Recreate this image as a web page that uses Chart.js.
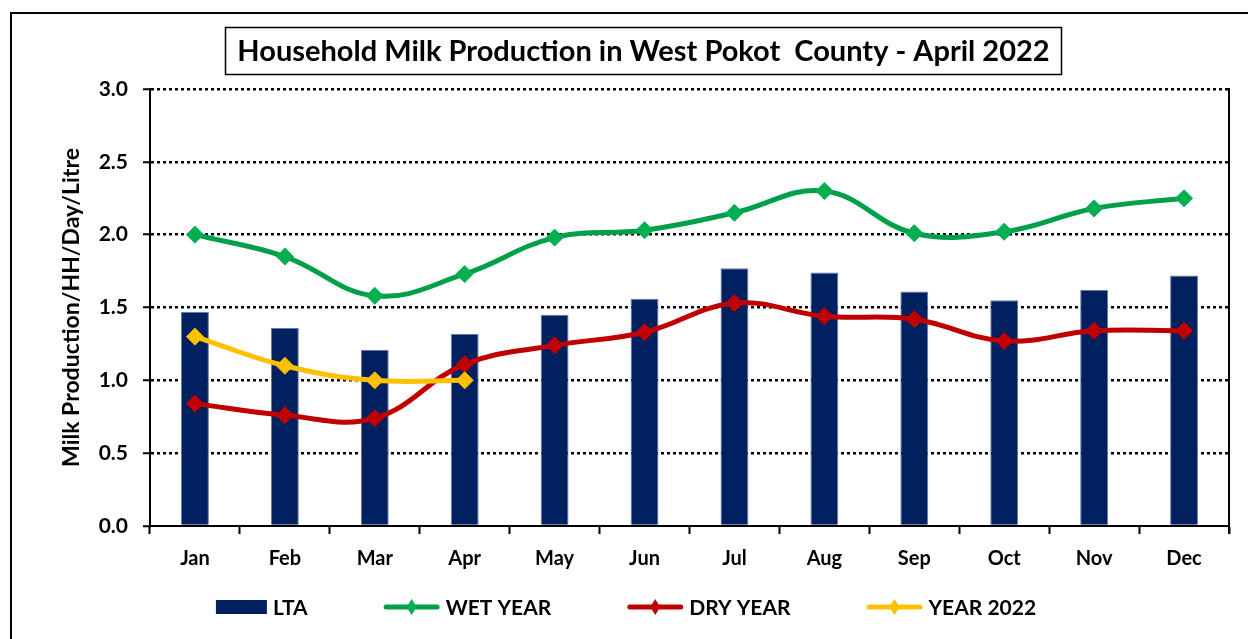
<!DOCTYPE html>
<html>
<head>
<meta charset="utf-8">
<title>Household Milk Production in West Pokot County - April 2022</title>
<script src="https://cdn.jsdelivr.net/npm/chart.js@4.4.1/dist/chart.umd.min.js"></script>
<style>
  html, body { margin: 0; padding: 0; background: #ffffff; }
  #wrap { width: 1248px; height: 639px; position: relative; }
</style>
</head>
<body>
<div id="wrap"><canvas id="milk" width="1248" height="639"></canvas></div>
<script>
// Monthly household milk production (litres per household per day)
const months = ['Jan', 'Feb', 'Mar', 'Apr', 'May', 'Jun', 'Jul', 'Aug', 'Sep', 'Oct', 'Nov', 'Dec'];
const lta = [1.47, 1.36, 1.21, 1.32, 1.45, 1.56, 1.77, 1.74, 1.61, 1.55, 1.62, 1.72];
const wetYear = [2.00, 1.85, 1.58, 1.73, 1.98, 2.03, 2.15, 2.30, 2.01, 2.02, 2.18, 2.25];
const dryYear = [0.84, 0.76, 0.74, 1.11, 1.24, 1.33, 1.53, 1.44, 1.42, 1.27, 1.34, 1.34];
const year2022 = [1.30, 1.10, 1.00, 1.00, null, null, null, null, null, null, null, null];
const yTickLabels = ['0.0', '0.5', '1.0', '1.5', '2.0', '2.5', '3.0'];

const chartTitle = 'Household Milk Production in West Pokot  County - April 2022';
const yAxisTitle = 'Milk Production/HH/Day/Litre';

const FAMILY = "Lato, 'Open Sans', 'Liberation Sans', sans-serif";
const TITLE_SIZE = 29;
const TITLE_PAD_TOP = 34;
const TITLE_LINE = 1.2;

// Outer frame around the whole chart
const outerFrame = {
  id: 'outerFrame',
  beforeDraw(chart) {
    const ctx = chart.ctx;
    ctx.save();
    ctx.fillStyle = '#ffffff';
    ctx.fillRect(0, 0, chart.width, chart.height);
    ctx.strokeStyle = '#000000';
    ctx.lineWidth = 2;
    ctx.strokeRect(11, 13, chart.width + 50, chart.height + 50);
    ctx.restore();
  }
};

// Box drawn around the chart title
const titleFrame = {
  id: 'titleFrame',
  afterDraw(chart) {
    const tb = chart.titleBlock;
    if (!tb) return;
    const ctx = chart.ctx;
    ctx.save();
    ctx.font = `bold ${TITLE_SIZE}px ${FAMILY}`;
    const w = ctx.measureText(chartTitle).width;
    const cx = (tb.left + tb.right) / 2;
    ctx.strokeStyle = '#000000';
    ctx.lineWidth = 1.5;
    ctx.strokeRect(Math.round(cx - w / 2 - 12) + 0.5, 27.5, Math.round(w + 24), 47);
    ctx.restore();
  }
};

// Closing line on the right side of the plot area
const rightEdge = {
  id: 'rightEdge',
  afterDraw(chart) {
    const a = chart.chartArea;
    const ctx = chart.ctx;
    ctx.save();
    ctx.strokeStyle = '#000000';
    ctx.lineWidth = 2;
    ctx.beginPath();
    ctx.moveTo(a.right, a.top - 1);
    ctx.lineTo(a.right, a.bottom + 8);
    ctx.stroke();
    ctx.restore();
  }
};

// Legend row below the month labels: bar swatch and line+diamond keys
const bottomLegend = {
  id: 'bottomLegend',
  afterDraw(chart) {
    const ctx = chart.ctx;
    const y = 607;
    const fontSize = 21;
    const gap = 76;
    const textGap = 6;
    ctx.save();
    ctx.font = `bold ${fontSize}px ${FAMILY}`;
    ctx.textBaseline = 'middle';
    ctx.textAlign = 'left';
    const entries = [0, 1, 2, 3].map(i => {
      const ds = chart.data.datasets[i];
      const iconW = ds.type === 'bar' ? 51 : 56;
      return { ds, iconW, textW: ctx.measureText(ds.label).width };
    });
    const total = entries.reduce((s, e) => s + e.iconW + textGap + e.textW, 0) + gap * (entries.length - 1);
    let x = 626 - total / 2;
    entries.forEach(e => {
      const ds = e.ds;
      if (ds.type === 'bar') {
        ctx.fillStyle = ds.backgroundColor;
        ctx.fillRect(x, y - 7, e.iconW, 14);
      } else {
        ctx.strokeStyle = ds.borderColor;
        ctx.lineWidth = 5;
        ctx.lineCap = 'round';
        ctx.beginPath();
        ctx.moveTo(x + 2.5, y);
        ctx.lineTo(x + e.iconW - 2.5, y);
        ctx.stroke();
        const mx = x + e.iconW / 2;
        ctx.fillStyle = ds.pointBackgroundColor;
        ctx.beginPath();
        ctx.moveTo(mx, y - 8);
        ctx.lineTo(mx + 5, y);
        ctx.lineTo(mx, y + 8);
        ctx.lineTo(mx - 5, y);
        ctx.closePath();
        ctx.fill();
      }
      x += e.iconW + textGap;
      ctx.fillStyle = '#000000';
      ctx.fillText(ds.label, x, y + 1);
      x += e.textW + gap;
    });
    ctx.restore();
  }
};

function lineSeries(label, data, lineColor, markerColor, order) {
  return {
    type: 'line',
    label,
    data,
    order,
    borderColor: lineColor,
    borderWidth: 5,
    tension: 0.4,
    fill: false,
    pointStyle: 'rectRot',
    pointRadius: 8.5,
    pointBackgroundColor: markerColor,
    pointBorderColor: markerColor,
    pointBorderWidth: 1,
    spanGaps: false
  };
}

new Chart(document.getElementById('milk'), {
  data: {
    labels: months,
    datasets: [
      {
        type: 'bar',
        label: 'LTA',
        data: lta,
        order: 4,
        backgroundColor: '#002060',
        borderColor: '#6a7aa2',
        borderWidth: 1,
        categoryPercentage: 1,
        barPercentage: 0.31
      },
      lineSeries('WET YEAR', wetYear, '#00A04A', '#00B050', 3),
      lineSeries('DRY YEAR', dryYear, '#C00000', '#C00000', 2),
      lineSeries('YEAR 2022', year2022, '#FFC000', '#FFC000', 1)
    ]
  },
  options: {
    responsive: false,
    animation: false,
    events: [],
    layout: { padding: { left: 58, right: 19, top: 0, bottom: 13.5 } },
    plugins: {
      legend: { display: false },
      tooltip: { enabled: false },
      title: {
        display: true,
        text: chartTitle,
        color: '#000000',
        font: { family: FAMILY, size: TITLE_SIZE, weight: 'bold', lineHeight: TITLE_LINE },
        padding: { top: TITLE_PAD_TOP, bottom: 89 - TITLE_PAD_TOP - TITLE_SIZE * TITLE_LINE }
      }
    },
    scales: {
      x: {
        offset: true,
        grid: {
          offset: true,
          drawOnChartArea: false,
          drawTicks: true,
          tickLength: 8,
          tickWidth: 2,
          tickColor: '#000000',
          color: '#000000'
        },
        border: { display: true, color: '#000000', width: 2 },
        ticks: {
          color: '#000000',
          font: { family: FAMILY, size: 20, weight: 'bold' },
          padding: 13,
          maxRotation: 0,
          autoSkip: false
        },
        afterFit(scale) { scale.height = 99.5; }
      },
      y: {
        min: 0,
        max: 3,
        grid: {
          color: (c) => (c.tick && c.tick.value === 0 ? 'rgba(0,0,0,0)' : '#000000'),
          lineWidth: 2.5,
          drawTicks: true,
          tickLength: 7,
          tickWidth: 2,
          tickColor: '#000000',
          tickBorderDash: []
        },
        border: { display: true, color: '#000000', width: 2, dash: [3, 3] },
        ticks: {
          stepSize: 0.5,
          padding: 15,
          color: '#000000',
          font: { family: FAMILY, size: 21, weight: 'bold' },
          callback: (v) => yTickLabels[Math.round(v / 0.5)]
        },
        title: {
          display: true,
          text: yAxisTitle,
          color: '#000000',
          font: { family: FAMILY, size: 23, weight: 'bold', lineHeight: 1.2 },
          padding: 0
        },
        afterFit(scale) { scale.width = 92; }
      }
    }
  },
  plugins: [outerFrame, titleFrame, rightEdge, bottomLegend]
});
</script>
</body>
</html>
